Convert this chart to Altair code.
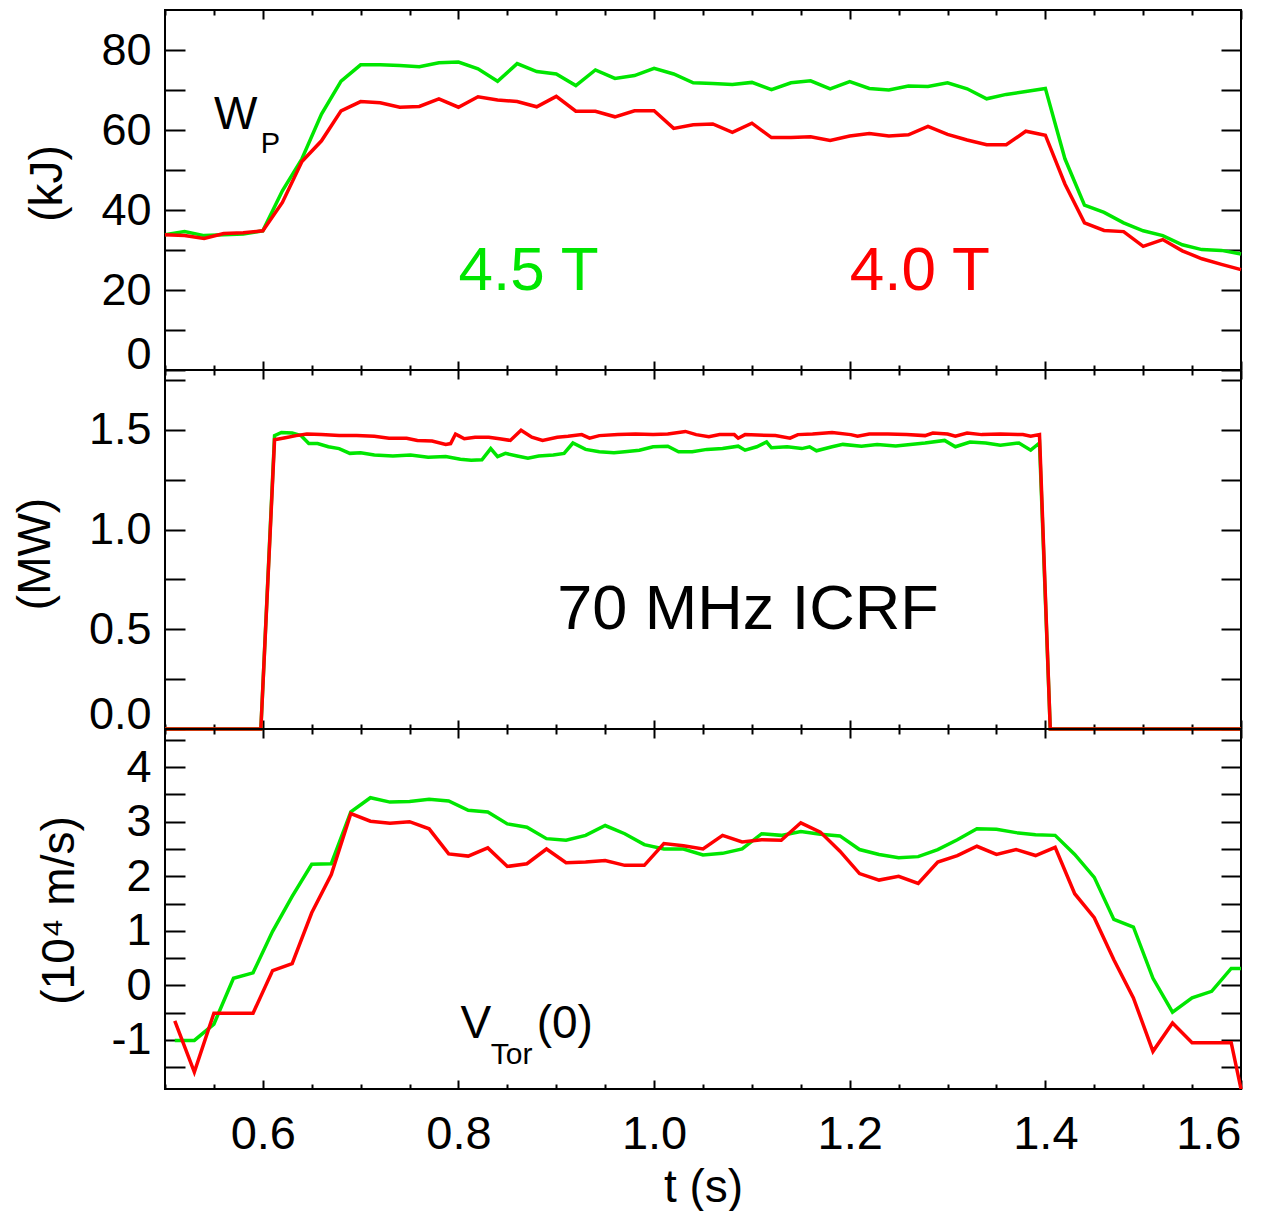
import altair as alt
import pandas as pd

# ---------------- data ----------------
T_WP = [0.50, 0.52, 0.54, 0.56, 0.58, 0.60, 0.62, 0.64, 0.66, 0.68,
        0.70, 0.72, 0.74, 0.76, 0.78, 0.80, 0.82, 0.84, 0.86, 0.88,
        0.90, 0.92, 0.94, 0.96, 0.98, 1.00, 1.02, 1.04, 1.06, 1.08,
        1.10, 1.12, 1.14, 1.16, 1.18, 1.20, 1.22, 1.24, 1.26, 1.28,
        1.30, 1.32, 1.34, 1.36, 1.38, 1.40, 1.42, 1.44, 1.46, 1.48,
        1.50, 1.52, 1.54, 1.56, 1.58, 1.60]
WP_45 = [33.8, 34.6, 33.6, 33.8, 34.0, 34.8, 44.8, 52.8, 64.0, 72.2,
         76.3, 76.3, 76.1, 75.8, 76.8, 77.0, 75.3, 72.2, 76.6, 74.6,
         74.0, 71.1, 75.0, 72.9, 73.6, 75.4, 74.0, 71.8, 71.6, 71.4,
         71.9, 70.1, 71.8, 72.3, 70.3, 72.1, 70.4, 70.0, 71.0, 70.9,
         71.8, 70.3, 67.8, 68.9, 69.6, 70.4, 52.8, 41.2, 39.4, 36.8,
         34.8, 33.6, 31.3, 30.1, 29.9, 29.0]
WP_40 = [33.8, 33.6, 32.9, 34.1, 34.3, 34.8, 41.9, 52.1, 57.3, 64.8,
         67.1, 66.8, 65.7, 65.9, 67.8, 65.7, 68.3, 67.5, 67.1, 65.8,
         68.4, 64.7, 64.7, 63.3, 64.8, 64.8, 60.4, 61.3, 61.5, 59.4,
         61.7, 58.1, 58.1, 58.3, 57.4, 58.5, 59.1, 58.5, 58.8, 60.9,
         58.9, 57.5, 56.3, 56.3, 59.7, 58.7, 46.5, 36.8, 34.9, 34.6,
         30.9, 32.6, 29.8, 27.8, 26.4, 25.1]

T_P45 = [0.50, 0.598, 0.612, 0.619, 0.630, 0.639, 0.647, 0.656, 0.667, 0.678, 0.689,
         0.700, 0.714, 0.733, 0.751, 0.769, 0.787,
         0.802, 0.813, 0.824, 0.833, 0.840, 0.848, 0.860, 0.871, 0.882, 0.897,
         0.908, 0.917, 0.930, 0.944, 0.959, 0.970, 0.985, 0.999,
         1.014, 1.025, 1.039, 1.054, 1.070, 1.086, 1.093,
         1.105, 1.115, 1.120, 1.136, 1.151, 1.159, 1.166, 1.182, 1.193,
         1.212, 1.228, 1.247, 1.262, 1.277, 1.297, 1.308, 1.323, 1.339, 1.354, 1.373, 1.385, 1.394,
         1.405, 1.60]
P_45 = [0.0, 0.0, 1.471, 1.487, 1.484, 1.471, 1.431, 1.431, 1.415, 1.406, 1.382,
        1.385, 1.374, 1.369, 1.374, 1.363, 1.366,
        1.353, 1.347, 1.350, 1.406, 1.366, 1.382, 1.369, 1.358, 1.369, 1.374,
        1.382, 1.434, 1.402, 1.390, 1.385, 1.390, 1.398, 1.415,
        1.418, 1.390, 1.390, 1.402, 1.406, 1.418, 1.398,
        1.415, 1.439, 1.410, 1.415, 1.406, 1.415, 1.395, 1.415, 1.427,
        1.418, 1.426, 1.419, 1.426, 1.434, 1.447, 1.415, 1.439, 1.434, 1.423, 1.434, 1.398, 1.434,
        0.0, 0.0]

T_P40 = [0.50, 0.598, 0.612, 0.623, 0.634, 0.645, 0.660, 0.678, 0.696,
         0.714, 0.729, 0.747, 0.758, 0.773, 0.787, 0.792, 0.797,
         0.800, 0.806, 0.817, 0.831, 0.842, 0.853, 0.864, 0.875, 0.886,
         0.901, 0.912, 0.926, 0.934, 0.944, 0.963, 0.981, 0.999,
         1.014, 1.032, 1.043, 1.056, 1.067, 1.082, 1.086, 1.093,
         1.124, 1.139, 1.147, 1.162, 1.182,
         1.201, 1.208, 1.220, 1.239, 1.258, 1.277, 1.285,
         1.300, 1.308, 1.320, 1.335, 1.354, 1.377, 1.385, 1.394,
         1.405, 1.60]
P_40 = [0.0, 0.0, 1.450, 1.460, 1.471, 1.479, 1.476, 1.471, 1.471,
        1.468, 1.458, 1.458, 1.447, 1.444, 1.427, 1.431, 1.479,
        1.471, 1.455, 1.463, 1.463, 1.455, 1.447, 1.498, 1.463, 1.447,
        1.463, 1.468, 1.476, 1.458, 1.471, 1.476, 1.479, 1.476,
        1.479, 1.492, 1.476, 1.466, 1.476, 1.476, 1.458, 1.476,
        1.471, 1.458, 1.476, 1.479, 1.487,
        1.476, 1.468, 1.479, 1.479, 1.476, 1.471, 1.484,
        1.479, 1.468, 1.484, 1.476, 1.479, 1.476, 1.468, 1.476,
        0.0, 0.0]

T_V = [0.51, 0.53, 0.55, 0.57, 0.59, 0.61, 0.63, 0.65, 0.67, 0.69,
       0.71, 0.73, 0.75, 0.77, 0.79, 0.81, 0.83, 0.85, 0.87, 0.89,
       0.91, 0.93, 0.95, 0.97, 0.99, 1.01, 1.03, 1.05, 1.07, 1.09,
       1.11, 1.13, 1.15, 1.17, 1.19, 1.21, 1.23, 1.25, 1.27, 1.29,
       1.31, 1.33, 1.35, 1.37, 1.39, 1.41, 1.43, 1.45, 1.47, 1.49,
       1.51, 1.53, 1.55, 1.57, 1.59, 1.60]
V_45 = [-1.01, -1.01, -0.71, 0.13, 0.23, 0.99, 1.63, 2.22, 2.23, 3.18,
        3.44, 3.36, 3.37, 3.41, 3.38, 3.21, 3.18, 2.96, 2.90, 2.69,
        2.66, 2.75, 2.93, 2.78, 2.58, 2.50, 2.50, 2.39, 2.42, 2.50,
        2.78, 2.75, 2.82, 2.77, 2.74, 2.49, 2.40, 2.34, 2.36, 2.49,
        2.67, 2.87, 2.86, 2.80, 2.76, 2.75, 2.40, 1.98, 1.21, 1.07,
        0.13, -0.49, -0.23, -0.11, 0.31, 0.31]
V_40 = [-0.65, -1.59, -0.51, -0.51, -0.51, 0.27, 0.40, 1.33, 2.03, 3.15,
        3.01, 2.97, 3.00, 2.87, 2.41, 2.37, 2.52, 2.18, 2.23, 2.50,
        2.25, 2.26, 2.29, 2.20, 2.20, 2.60, 2.56, 2.50, 2.75, 2.63,
        2.67, 2.66, 2.98, 2.81, 2.46, 2.05, 1.93, 2.00, 1.87, 2.26,
        2.38, 2.55, 2.40, 2.49, 2.38, 2.53, 1.68, 1.24, 0.47, -0.23,
        -1.21, -0.69, -1.05, -1.05, -1.05, -1.90]

X_MAJOR = [0.6, 0.8, 1.0, 1.2, 1.4, 1.6]
X_MINOR = [0.5, 0.55, 0.65, 0.7, 0.75, 0.85, 0.9, 0.95, 1.05, 1.1, 1.15,
           1.25, 1.3, 1.35, 1.45, 1.5, 1.55]
Y1_TICKS = [0, 10, 20, 30, 40, 50, 60, 70, 80]
Y2_TICKS = [0.0, 0.25, 0.5, 0.75, 1.0, 1.25, 1.5, 1.75]
Y3_TICKS = [-1.5, -1, -0.5, 0, 0.5, 1, 1.5, 2, 2.5, 3, 3.5, 4, 4.5]

ANN1_TXT = ["W", "P", "4.5 T", "4.0 T"]
ANN1_T = [0.550, 0.598, 0.800, 1.200]
ANN1_V = [60.2, 54.3, 20.0, 20.0]
ANN1_SIZE = [46, 29, 62, 62]
ANN1_COL = ["black", "black", "#00e600", "#ff0000"]

ANN2_TXT = ["70 MHz ICRF"]
ANN2_T = [0.901]
ANN2_V = [0.50]
ANN2_SIZE = [63]
ANN2_COL = ["black"]

ANN3_TXT = ["V", "Tor", "(0)"]
ANN3_T = [0.802, 0.833, 0.880]
ANN3_V = [-0.97, -1.45, -0.97]
ANN3_SIZE = [46, 30, 46]
ANN3_COL = ["black", "black", "black"]

GREEN = "#00e600"
RED = "#ff0000"
FONT = "Liberation Sans"
PW = 1076
XDOM = [0.5, 1.6]


def xaxis(orient, values, size, labels=False, title=None, title_y=None):
    kw = dict(orient=orient, values=values, tickSize=size, offset=-size,
              domain=False, grid=False, ticks=True, tickWidth=2, tickColor="black",
              labels=labels, labelOverlap=False, title=title)
    if labels:
        kw.update(labelFont=FONT, labelFontSize=47, labelColor="black",
                  labelPadding=22, format=".1f")
    if title:
        kw.update(titleFont=FONT, titleFontSize=46, titleFontWeight="normal",
                  titleColor="black", titleBaseline="alphabetic", titleY=title_y)
    return alt.Axis(**kw)


def panel(g_t, g_v, r_t, r_v, ydom, yticks, label_expr, flush_off, ytitle,
          title_x, title_y, ann, height, bottom=False):
    xs = alt.Scale(domain=XDOM, nice=False, zero=False)
    ys = alt.Scale(domain=ydom, nice=False, zero=False)
    dg = pd.DataFrame({"t": g_t, "v": g_v})
    dr = pd.DataFrame({"t": r_t, "v": r_v})

    yleft = alt.Axis(orient="left", values=yticks, tickSize=20, offset=-20,
                     domain=False, grid=False, tickWidth=2, tickColor="black",
                     labelExpr=label_expr, labelFont=FONT, labelFontSize=45,
                     labelColor="black", labelPadding=14, labelOverlap=False,
                     labelOffset={"condition": {"test": "datum.value === %s" % ydom[0],
                                                "value": flush_off}, "value": 0},
                     title=ytitle, titleFont=FONT, titleFontSize=46,
                     titleFontWeight="normal", titleColor="black",
                     titleX=title_x, titleY=title_y, titleAngle=270,
                     titleAlign="center", titleBaseline="middle")
    yright = alt.Axis(orient="right", values=yticks, tickSize=20, offset=-20,
                      domain=False, grid=False, tickWidth=2, tickColor="black",
                      labels=False, title=None)

    green = alt.Chart(dg).mark_line(color=GREEN, strokeWidth=3.5, clip=False).encode(
        x=alt.X("t:Q", scale=xs,
                axis=xaxis("bottom", X_MAJOR, 9, labels=bottom,
                           title="t (s)" if bottom else None,
                           title_y=121 if bottom else None)),
        y=alt.Y("v:Q", scale=ys, axis=yleft),
    )
    red = alt.Chart(dr).mark_line(color=RED, strokeWidth=3.5, clip=False).encode(
        x=alt.X("t:Q", scale=xs, axis=xaxis("bottom", X_MINOR, 5)),
        y=alt.Y("v:Q", scale=ys, axis=yright),
    )
    inv1 = alt.Chart(dg).mark_line(opacity=0).encode(
        x=alt.X("t:Q", scale=xs, axis=xaxis("top", X_MAJOR, 9)),
        y=alt.Y("v:Q", scale=ys, axis=None),
    )
    inv2 = alt.Chart(dg).mark_line(opacity=0).encode(
        x=alt.X("t:Q", scale=xs, axis=xaxis("top", X_MINOR, 5)),
        y=alt.Y("v:Q", scale=ys, axis=None),
    )
    da = pd.DataFrame({"t": ann[0], "v": ann[1], "txt": ann[2],
                       "size": ann[3], "col": ann[4]})
    text = alt.Chart(da).mark_text(align="left", baseline="alphabetic", font=FONT).encode(
        x=alt.X("t:Q", scale=xs, axis=None),
        y=alt.Y("v:Q", scale=ys, axis=None),
        text="txt:N",
        size=alt.Size("size:Q", scale=None, legend=None),
        color=alt.Color("col:N", scale=None, legend=None),
    )
    return alt.layer(inv1, inv2, green, red, text).resolve_axis(
        x="independent", y="independent").properties(width=PW, height=height)


p1 = panel(T_WP, WP_45, T_WP, WP_40, [0, 90], Y1_TICKS,
           "datum.value % 20 === 0 ? toString(datum.value) : ''", -16,
           "(kJ)", -137.5, 173,
           (ANN1_T, ANN1_V, ANN1_TXT, ANN1_SIZE, ANN1_COL), 360)
p2 = panel(T_P45, P_45, T_P40, P_40, [0, 1.8], Y2_TICKS,
           "indexof([0, 0.5, 1, 1.5], datum.value) >= 0 ? format(datum.value, '.1f') : ''", -15,
           "(MW)", -149.5, 183.5,
           (ANN2_T, ANN2_V, ANN2_TXT, ANN2_SIZE, ANN2_COL), 359)
p3 = panel(T_V, V_45, T_V, V_40, [-1.9, 4.7], Y3_TICKS,
           "datum.value % 1 === 0 ? toString(datum.value) : ''", 0,
           "(10\u2074 m/s)", -126, 181,
           (ANN3_T, ANN3_V, ANN3_TXT, ANN3_SIZE, ANN3_COL), 360, bottom=True)

chart = alt.vconcat(p1, p2, p3, spacing=0, bounds="flush").properties(
    padding={"left": 3, "top": 0, "right": 5, "bottom": 0},
    background="white",
).configure_view(stroke="black", strokeWidth=2)

chart.save("out.html", embed_options={"renderer": "svg", "actions": False})
